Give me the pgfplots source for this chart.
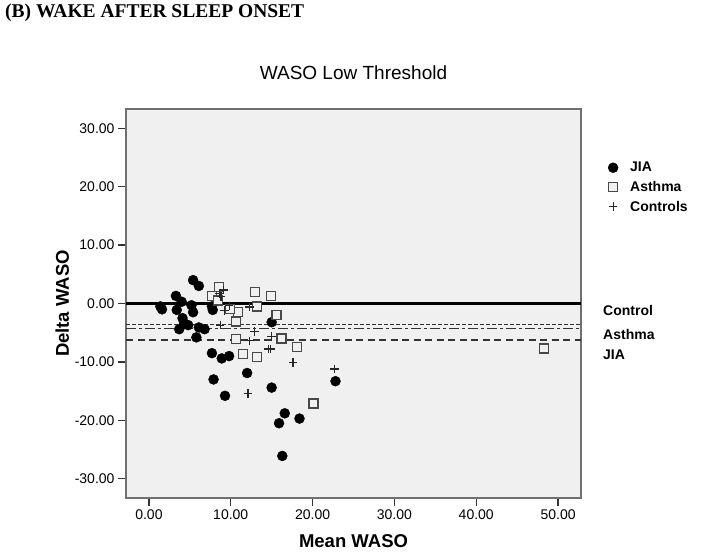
\documentclass[border=0pt]{standalone}
\usepackage{fontspec}
\setmainfont{Liberation Sans}
\newfontfamily\headfont{Liberation Serif}
\usepackage{pgfplots}
\pgfplotsset{compat=1.18}
\definecolor{plotbg}{HTML}{F0F0F0}
\definecolor{framegray}{HTML}{707070}
\definecolor{sqgray}{HTML}{484848}

\begin{document}
\begin{tikzpicture}
\useasboundingbox (0,0) rectangle (714pt,554pt);
\node[anchor=west, inner sep=0pt, font=\headfont\bfseries\fontsize{19.5}{22}\selectfont]
  at (5pt,541pt) {(B) WAKE AFTER SLEEP ONSET};
\begin{axis}[
  at={(126pt,56pt)}, anchor=south west,
  scale only axis, width=455pt, height=389pt,
  xmin=-2.8, xmax=52.8, ymin=-33.3, ymax=33.3,
  axis background/.style={fill=plotbg},
  axis line style={framegray, line width=1.6pt},
  xtick={0,10,20,30,40,50},
  xticklabels={0.00,10.00,20.00,30.00,40.00,50.00},
  ytick={-30,-20,-10,0,10,20,30},
  yticklabels={-30.00,-20.00,-10.00,0.00,10.00,20.00,30.00},
  tick align=outside, xtick pos=left, ytick pos=left,
  major tick length=8pt,
  tick style={black!80, line width=1.3pt},
  tick label style={font=\fontsize{14}{16}\selectfont},
  xlabel={Mean WASO}, ylabel={Delta WASO},
  label style={font=\bfseries\fontsize{18.5}{21}\selectfont},
  xlabel style={at={(axis description cs:0.5,-0.11)}, anchor=center},
  ylabel style={at={(axis description cs:-0.14,0.5)}, anchor=center},
  title={WASO Low Threshold},
  title style={at={(axis description cs:0.5,1.077)}, anchor=center,
    font=\fontsize{19}{22}\selectfont},
  legend style={at={(axis description cs:1.057,0.869)}, anchor=north west,
    draw=none, fill=none, inner sep=0pt, row sep=4pt,
    font=\bfseries\fontsize{14}{16}\selectfont},
  legend cell align=left,
  legend image code/.code={\path[draw=none, fill=none] (0pt,-3pt) rectangle (21pt,3pt);
    \draw[mark repeat=2,mark phase=2,#1]
    plot coordinates {(0pt,0pt) (6pt,0pt) (12pt,0pt)};},
]
% group mean lines
\addplot[black, line width=2.4pt, forget plot] coordinates {(-2.8,0) (52.8,0)};
\addplot[black!80, line width=1.5pt, dash pattern=on 4pt off 2pt, forget plot]
  coordinates {(-2.8,-3.6) (52.8,-3.6)};
\addplot[black!80, line width=1.5pt, dash pattern=on 10pt off 3pt on 3pt off 3pt, forget plot]
  coordinates {(-2.8,-4.3) (52.8,-4.3)};
\addplot[black!80, line width=1.7pt, dash pattern=on 7pt off 4.5pt, forget plot]
  coordinates {(-2.8,-6.3) (52.8,-6.3)};
% JIA
\addplot[only marks, mark=*, mark size=5pt, mark options={fill=black, draw=black}]
  coordinates {
  (5.4,4.0) (6.1,3.0) (3.3,1.3) (1.4,-0.5) (1.6,-1.0) (4.0,0.3) (3.4,-1.1)
  (5.2,-0.3) (5.4,-1.5) (7.7,-0.5) (7.8,-1.1) (4.1,-2.5) (4.3,-3.4) (3.7,-4.4)
  (4.8,-3.7) (6.1,-4.1) (6.8,-4.4) (5.8,-5.8) (7.7,-8.5) (8.9,-9.4) (9.8,-9.0)
  (12.0,-11.9) (7.9,-13.0) (9.3,-15.8) (15.0,-3.2) (15.0,-14.4) (22.8,-13.3)
  (16.6,-18.8) (15.9,-20.5) (18.4,-19.7) (16.3,-26.1)
};
\addlegendentry{JIA}
% Asthma
\addplot[only marks, mark=square*, mark size=4.5pt,
  mark options={fill=plotbg, draw=sqgray, line width=1.3pt}]
  coordinates {
  (8.6,2.8) (7.7,1.3) (8.4,0.5) (13.0,2.0) (14.9,1.3) (13.2,-0.5) (10.9,-1.4)
  (9.9,-1.0) (15.6,-2.0) (10.6,-3.1) (10.6,-6.1) (16.2,-6.0) (18.1,-7.4)
  (11.5,-8.6) (13.2,-9.2) (20.1,-17.1) (48.3,-7.7)
};
\addlegendentry{Asthma}
% Controls
\addplot[only marks, mark=+, mark size=4.3pt, mark options={draw=black!85, line width=1.2pt}]
  coordinates {
  (8.6,1.7) (9.1,2.3) (8.8,1.2) (9.2,-1.2) (9.8,-0.4) (12.3,-0.6) (8.7,-3.7)
  (12.9,-4.8) (12.3,-6.4) (15.0,-5.6) (14.6,-7.8) (14.9,-7.8) (17.6,-10.1)
  (12.1,-15.4) (22.7,-11.2)
};
\addlegendentry{Controls}
\end{axis}
\node[anchor=west, inner sep=0pt, font=\bfseries\fontsize{14}{16}\selectfont] at (603pt,244pt) {Control};
\node[anchor=west, inner sep=0pt, font=\bfseries\fontsize{14}{16}\selectfont] at (603pt,220pt) {Asthma};
\node[anchor=west, inner sep=0pt, font=\bfseries\fontsize{14}{16}\selectfont] at (603pt,199pt) {JIA};
\end{tikzpicture}
\end{document}
